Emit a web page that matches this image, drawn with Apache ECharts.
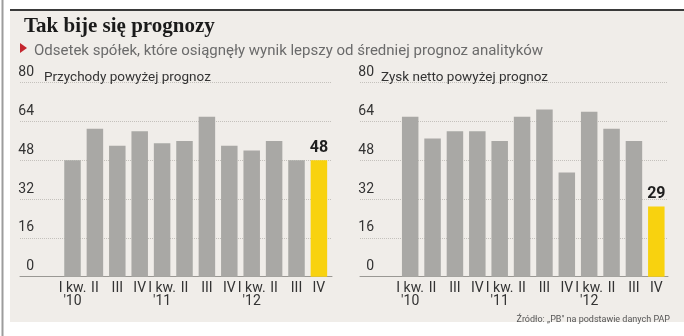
<!DOCTYPE html>
<html><head><meta charset="utf-8">
<script src="https://cdn.jsdelivr.net/npm/echarts@6/dist/echarts.min.js"></script>
<style>html,body{margin:0;padding:0;background:#fff}#c{width:684px;height:336px}</style>
</head><body><div id="c"></div>
<script>
var categories = ["I kw.\n'10","II","III","IV","I kw.\n'11","II","III","IV","I kw.\n'12","II","III","IV"];
var revenueAbove = [48,61,54,60,55,56,66,54,52,56,48,48];
var profitAbove = [66,57,60,60,56,66,69,43,68,61,56,29];
var yTicks = [0,16,32,48,64,80];

var GRAY = '#a9a8a5', YEL = '#f8d20f', TXT = '#333';
var FONT = 'Roboto';
var chart = echarts.init(document.getElementById('c'));

function barData(arr){
  return arr.map(function(v,i){
    return i === arr.length-1 ? {value:v, itemStyle:{color:YEL}, label:{show:true}} : v;
  });
}
function bgY(idx){
  return {gridIndex:idx, type:'value', min:yTicks[0], max:yTicks[yTicks.length-1], interval:yTicks[1]-yTicks[0],
    axisLine:{show:false}, axisTick:{show:false},
    splitLine:{show:true, lineStyle:{color:'#c4c1bc', type:[1,1], width:1}},
    axisLabel:{inside:true, align:'right', verticalAlign:'bottom', margin:14, padding:[0,0,3,0], color:TXT, fontSize:14, fontFamily:FONT}};
}
function barY(idx){
  return {gridIndex:idx, type:'value', min:yTicks[0], max:yTicks[yTicks.length-1], show:false, splitLine:{show:false}};
}
function bgX(idx){
  return {gridIndex:idx, type:'value', min:0, max:1, axisLabel:{show:false}, axisTick:{show:false}, splitLine:{show:false},
    axisLine:{show:true, onZero:false, lineStyle:{color:'#9a9894', width:1}}};
}
function barX(idx){
  return {gridIndex:idx, type:'category', data:categories, axisLine:{show:false}, axisTick:{show:false},
    axisLabel:{interval:0, margin:5, color:TXT, fontSize:14, lineHeight:13, fontFamily:FONT}};
}
function barSeries(idx, arr){
  return {type:'bar', xAxisIndex:idx, yAxisIndex:idx, data:barData(arr), barWidth:16.5,
    itemStyle:{color:GRAY}, silent:true,
    label:{show:false, position:'top', distance:4, color:'#1e1e1e', fontWeight:'bold', fontSize:16, fontFamily:FONT}};
}

chart.setOption({
  animation:false,
  textStyle:{fontFamily:FONT},
  graphic:[
    {type:'rect', shape:{x:10,y:10,width:674,height:312}, style:{fill:'#f0ede9'}, z:-10},
    {type:'rect', shape:{x:10,y:9,width:674,height:2}, style:{fill:'#3a3a3a'}, z:-9},
    {type:'rect', shape:{x:1.5,y:0,width:2,height:336}, style:{fill:'#9c9c9c'}, z:-9},
    {type:'polygon', shape:{points:[[20,43],[27,48],[20,53]]}, style:{fill:'#c4262e'}}
  ],
  title:[
    {text:'Tak bije się prognozy', left:19, top:11, textStyle:{fontFamily:'Liberation Serif', fontWeight:'bold', fontSize:21, color:'#1a1a1a'}},
    {text:'Odsetek spółek, które osiągnęły wynik lepszy od średniej prognoz analityków', left:29, top:39, textStyle:{fontFamily:FONT, fontWeight:'normal', fontSize:15, color:'#6b6b6b'}},
    {text:'Przychody powyżej prognoz', left:39, top:66, textStyle:{fontFamily:FONT, fontWeight:'normal', fontSize:13.5, color:TXT}},
    {text:'Zysk netto powyżej prognoz', left:376, top:66, textStyle:{fontFamily:FONT, fontWeight:'normal', fontSize:13.5, color:TXT}},
    {text:'Źródło: „PB" na podstawie danych PAP', right:9, top:310, textStyle:{fontFamily:FONT, fontWeight:'normal', fontSize:9, color:'#555'}}
  ],
  grid:[
    {left:20, right:352, top:82.7, bottom:59.3},
    {left:61.3, right:684-330.1, top:82.7, bottom:59.3},
    {left:360, right:16, top:82.7, bottom:59.3},
    {left:399, right:684-667.5, top:82.7, bottom:59.3}
  ],
  xAxis:[bgX(0), barX(1), bgX(2), barX(3)],
  yAxis:[bgY(0), barY(1), bgY(2), barY(3)],
  series:[barSeries(1, revenueAbove), barSeries(3, profitAbove)]
});
</script></body></html>
